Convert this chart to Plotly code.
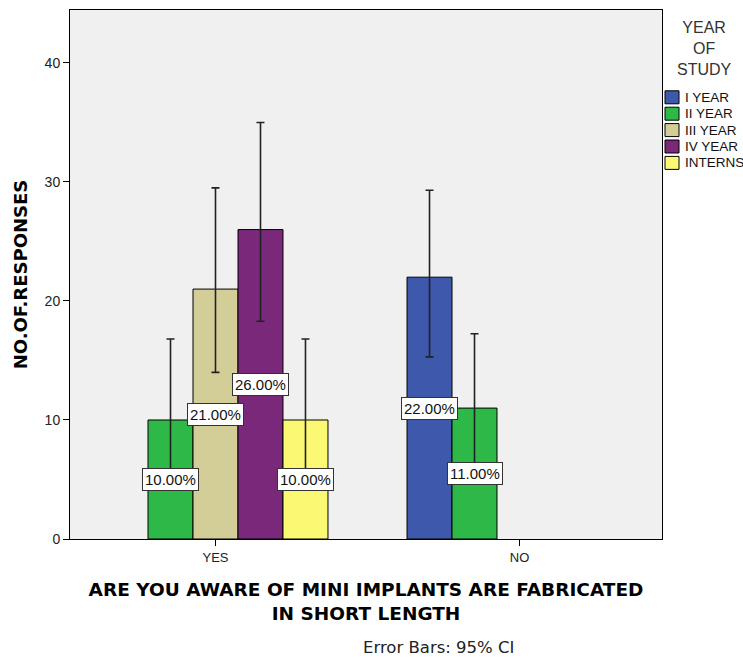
import plotly.graph_objects as go

categories = ["YES", "NO"]
series_names = ["I YEAR", "II YEAR", "III YEAR", "IV YEAR", "INTERNS"]
colors = ["#3E58AC", "#2EB848", "#D3CE97", "#7A287A", "#FBF873"]
values = [
    [None, 22],
    [10, 11],
    [21, None],
    [26, None],
    [10, None],
]
ci_upper = [
    [None, 29.3],
    [16.8, 17.25],
    [29.5, None],
    [35.0, None],
    [16.8, None],
]
ci_lower = [
    [None, 15.3],
    [5.4, 6.3],
    [14.0, None],
    [18.3, None],
    [5.4, None],
]
labels = [
    [None, "22.00%"],
    ["10.00%", "11.00%"],
    ["21.00%", None],
    ["26.00%", None],
    ["10.00%", None],
]
legend_title_lines = ["YEAR", "OF", "STUDY"]

FONT = "Liberation Sans, Arial, sans-serif"
WIDE = "DejaVu Sans, sans-serif"
W, H = 743, 659
ML, MR, MT, MB = 70, 81, 10, 120
PW, PH = W - ML - MR, H - MT - MB
bargap = 0.26
n = len(series_names)
slot = (1 - bargap) / n

fig = go.Figure()
for i, name in enumerate(series_names):
    plus = [None if v is None else u - v for v, u in zip(values[i], ci_upper[i])]
    minus = [None if v is None else v - l for v, l in zip(values[i], ci_lower[i])]
    fig.add_trace(go.Bar(
        name=name, x=categories, y=values[i], showlegend=False,
        marker=dict(color=colors[i], line=dict(color="#000000", width=1)),
        error_y=dict(type="data", symmetric=False, array=plus, arrayminus=minus,
                     color="#222222", thickness=1.6, width=4),
    ))

def px_x(p):
    return (p - ML) / PW

def px_y(p):
    return (H - MB - p) / PH

annotations = []
shapes = []
for i in range(n):
    for j, cat in enumerate(categories):
        v = values[i][j]
        if v is None:
            continue
        annotations.append(dict(
            x=j + (i - (n - 1) / 2) * slot, y=v / 2, xref="x", yref="y",
            text=labels[i][j], showarrow=False,
            font=dict(family=FONT, size=15, color="#111111"),
            bgcolor="#FFFFFF", bordercolor="#333333", borderwidth=1, borderpad=2,
        ))

annotations.append(dict(
    x=px_x(438.5), y=px_y(647), xref="paper", yref="paper", text="Error Bars: 95% CI",
    showarrow=False, xanchor="center", yanchor="middle",
    font=dict(family=WIDE, size=16.5, color="#222222"),
))
annotations.append(dict(
    x=px_x(704.5), y=px_y(48.5), xref="paper", yref="paper",
    text="<br>".join(legend_title_lines), align="center",
    showarrow=False, xanchor="center", yanchor="middle",
    font=dict(family=FONT, size=16, color="#333333"),
))

# legend entries (swatch + label) for each series
for i, name in enumerate(series_names):
    yc = 97.3 + 16.4 * i
    shapes.append(dict(
        type="rect", xref="paper", yref="paper",
        x0=px_x(665), x1=px_x(679), y0=px_y(yc - 6.5), y1=px_y(yc + 6.5),
        fillcolor=colors[i], line=dict(color="#000000", width=1),
    ))
    annotations.append(dict(
        x=px_x(683), y=px_y(yc), xref="paper", yref="paper", text=name,
        showarrow=False, xanchor="left", yanchor="middle",
        font=dict(family=FONT, size=13.5, color="#111111"),
    ))

fig.update_layout(
    width=W, height=H,
    margin=dict(l=ML, r=MR, t=MT, b=MB, autoexpand=False),
    paper_bgcolor="#FFFFFF", plot_bgcolor="#F0F0F0",
    barmode="group", bargap=bargap, bargroupgap=0,
    font=dict(family=FONT, size=12, color="#222222"),
    showlegend=False,
    annotations=annotations,
    shapes=shapes,
)
fig.update_xaxes(
    type="category", range=[-145.5 / 304, 1 + 142.5 / 304],
    showline=True, linecolor="#000000", linewidth=1, mirror=True,
    ticks="outside", ticklen=6, tickcolor="#000000",
    tickfont=dict(family=FONT, size=13, color="#222222"),
    showgrid=False,
    title=dict(text="<b>ARE YOU AWARE OF MINI IMPLANTS ARE FABRICATED<br>IN SHORT LENGTH</b>",
               font=dict(family=WIDE, size=18.5, color="#000000"), standoff=19),
)
fig.update_yaxes(
    range=[0, 44.45], tickvals=[0, 10, 20, 30, 40],
    showline=True, linecolor="#000000", linewidth=1, mirror=True,
    ticks="outside", ticklen=6, tickcolor="#000000",
    tickfont=dict(family=FONT, size=14, color="#222222"),
    showgrid=False, zeroline=False,
    title=dict(text="<b>NO.OF.RESPONSES</b>",
               font=dict(family=WIDE, size=18, color="#000000"), standoff=12),
)

fig.write_html("out.html")
